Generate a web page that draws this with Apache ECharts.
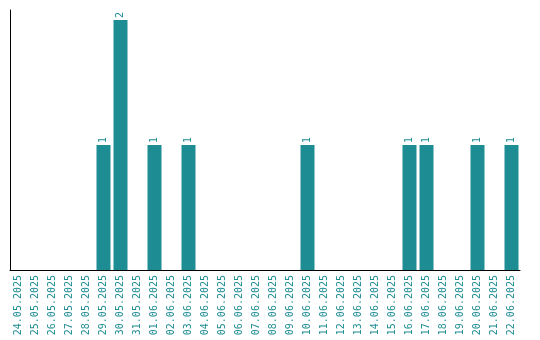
<!DOCTYPE html>
<html><head><meta charset="utf-8">
<script src="https://cdn.jsdelivr.net/npm/echarts@6/dist/echarts.min.js"></script>
<style>html,body{margin:0;padding:0;background:#fff}#c{width:540px;height:340px}</style>
</head><body><div id="c"></div>
<script>
const categories = ["24.05.2025","25.05.2025","26.05.2025","27.05.2025","28.05.2025","29.05.2025","30.05.2025","31.05.2025","01.06.2025","02.06.2025","03.06.2025","04.06.2025","05.06.2025","06.06.2025","07.06.2025","08.06.2025","09.06.2025","10.06.2025","11.06.2025","12.06.2025","13.06.2025","14.06.2025","15.06.2025","16.06.2025","17.06.2025","18.06.2025","19.06.2025","20.06.2025","21.06.2025","22.06.2025"];
const values = [0,0,0,0,0,1,2,0,1,0,1,0,0,0,0,0,0,1,0,0,0,0,0,1,1,0,0,1,0,1];
const color = '#1e8c93';
const chart = echarts.init(document.getElementById('c'));
chart.setOption({
  animation: false,
  grid: {left: 10, right: 20, top: 10, bottom: 70},
  xAxis: {
    type: 'category', data: categories,
    axisLine: {lineStyle: {color: '#000', width: 1}},
    axisTick: {show: false},
    axisLabel: {rotate: 90, interval: 0, color: color, fontFamily: 'DejaVu Sans Mono', fontSize: 10, margin: 5}
  },
  yAxis: {
    type: 'value', min: 0, max: 2.08,
    axisLine: {show: true, lineStyle: {color: '#000', width: 1}},
    axisTick: {show: false}, axisLabel: {show: false}, splitLine: {show: false}
  },
  series: [{
    type: 'bar', data: values.map(v => v === 0 ? null : v), barWidth: 14,
    itemStyle: {color: color},
    label: {show: true, position: 'top', rotate: 90, align: 'left', verticalAlign: 'middle', distance: 2,
      color: color, fontFamily: 'DejaVu Sans Mono', fontSize: 10}
  }]
});
</script></body></html>
